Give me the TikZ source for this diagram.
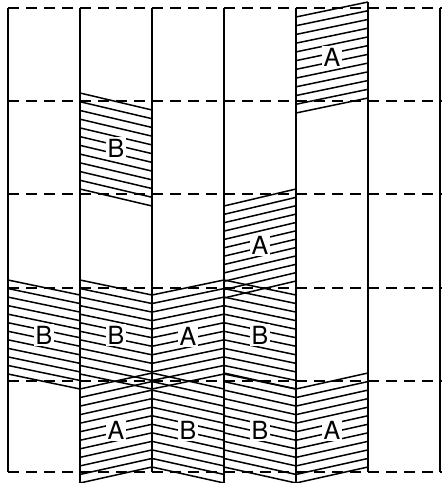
\documentclass[tikz,border=0pt]{standalone}
\usepackage{fontspec}
\setmainfont{TeX Gyre Heros}
\begin{document}
\begin{tikzpicture}[x=1pt,y=-1pt,
  gridline/.style={line width=1.7pt},
  hatchline/.style={line width=1.5pt},
  dashline/.style={line width=1.6pt, dash pattern=on 11pt off 7pt},
  lbl/.style={fill=white, inner sep=2pt, font=\fontsize{25}{25}\selectfont}]
\useasboundingbox (0,0) rectangle (444,483);
% hatched parallelograms: left x / right x / left top y / right top y / height / label / name / label y
\foreach \xl/\xr/\yl/\yr/\h/\t/\n/\ly in {
  296/368/17/2/96/A/a1/57,
  80/152/93/110/96/B/b1/148,
  224/296/206/189/92/A/a2/245,
  8/80/280/295/94/B/b2/335,
  80/152/280/295/94/B/b3/335,
  152/224/295/280/94/A/a3/336,
  224/296/280/295/94/B/b4/335,
  80/152/389/373/94/A/a4/430,
  152/224/373/389/94/B/b5/430,
  224/296/373/389/94/B/b6/430,
  296/368/389/373/94/A/a5/430}{
  \foreach \k in {0,...,11}{
    \draw[hatchline] (\xl,{\yl+\k*\h/11}) -- (\xr,{\yr+\k*\h/11});
  }
  \draw[gridline] (\xl,\yl) -- (\xl,{\yl+\h});
  \draw[gridline] (\xr,\yr) -- (\xr,{\yr+\h});
  \node[lbl] (\n) at ({(\xl+\xr)/2},\ly) {\t};
}
% vertical lines
\draw[gridline] (8,8) -- (8,472);
\draw[gridline] (80,8) -- (80,483);
\draw[gridline] (152,8) -- (152,472);
\draw[gridline] (224,8) -- (224,483);
\draw[gridline] (296,8) -- (296,483);
\draw[gridline] (368,2) -- (368,472);
\draw[gridline] (440,8) -- (440,472);
% dashed horizontal lines
\foreach \y in {8,101,194,288,381,472}{
  \draw[dashline] (8,\y) -- (442,\y);
}
\end{tikzpicture}
\end{document}
